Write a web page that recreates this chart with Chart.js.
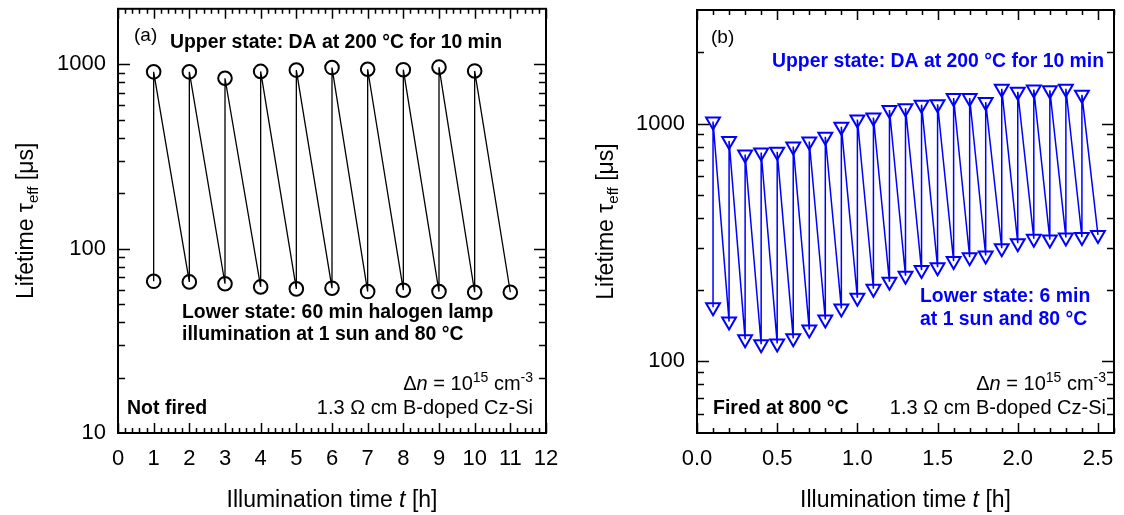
<!DOCTYPE html>
<html><head><meta charset="utf-8">
<script src="https://cdn.jsdelivr.net/npm/chart.js@4/dist/chart.umd.min.js"></script>
<style>
html,body{margin:0;padding:0;background:#fff;}
#wrap{position:relative;width:1124px;height:515px;overflow:hidden;background:#fff;}
canvas{position:absolute;top:0;}
#cA{left:0;} #cB{left:562px;}
</style></head><body>
<div id="wrap"><canvas id="cA" width="562" height="515"></canvas><canvas id="cB" width="562" height="515"></canvas></div>
<script>
// ---------- data (a): not fired ----------
const leftLowerTime = [1,2,3,4,5,6,7,8,9,10,11];
const leftLowerTau  = [66.5,66,64.5,62,60.5,61,58.5,59.5,58.5,58,58];
const leftUpperTime = [1,2,3,4,5,6,7,8,9,10];
const leftUpperTau  = [910,910,840,915,930,960,940,935,965,920];
const leftXTicks = [0,1,2,3,4,5,6,7,8,9,10,11,12];
const leftYTicks = [10,100,1000];

// ---------- data (b): fired at 800 °C ----------
const rightLowerTime = [0.1,0.2,0.3,0.4,0.5,0.6,0.7,0.8,0.9,1.0,1.1,1.2,1.3,1.4,1.5,1.6,1.7,1.8,1.9,2.0,2.1,2.2,2.3,2.4,2.5];
const rightLowerTau  = [169,147,124,118,119,125,136,150,167,185,202,216,229,242,249,264,274,279,299,314,328,325,332,333,340];
const rightUpperTime = [0.1,0.2,0.3,0.4,0.5,0.6,0.7,0.8,0.9,1.0,1.1,1.2,1.3,1.4,1.5,1.6,1.7,1.8,1.9,2.0,2.1,2.2,2.3,2.4];
const rightUpperTau  = [1020,845,740,755,760,800,840,880,970,1040,1060,1140,1160,1200,1205,1280,1280,1230,1400,1360,1390,1380,1400,1320];
const rightXTicks = [0,0.5,1.0,1.5,2.0,2.5];
const rightYTicks = [100,1000];

// measurement sequence: lower(t1), upper(t1), lower(t2), upper(t2), ...
function sequence(lt, lv, ut, uv){
  const out = [];
  for (let i = 0; i < lt.length; i++){
    out.push({x: lt[i], y: lv[i]});
    if (i < ut.length) out.push({x: ut[i], y: uv[i]});
  }
  return out;
}

const FONT = "'Liberation Sans', Arial, Helvetica, sans-serif";

function drawRich(ctx, parts, x, y, align, color){
  let w = 0;
  parts.forEach(p => { ctx.font = p.f; p.w = ctx.measureText(p.t).width; w += p.w; });
  let cx = align === 'right' ? x - w : (align === 'center' ? x - w/2 : x);
  ctx.fillStyle = color; ctx.textAlign = 'left'; ctx.textBaseline = 'alphabetic';
  parts.forEach(p => { ctx.font = p.f; ctx.fillText(p.t, cx, y + (p.dy || 0)); cx += p.w; });
}

function decor(spec){
  return {
    id: 'decor',
    afterDraw(chart){
      const ctx = chart.ctx, a = chart.chartArea;
      const xs = chart.scales.x, ys = chart.scales.y;
      ctx.save();
      ctx.strokeStyle = '#000'; ctx.lineWidth = 2;
      ctx.strokeRect(a.left, a.top, a.right - a.left, a.bottom - a.top);
      ctx.lineWidth = 1.5;
      ctx.beginPath();
      const xmin = xs.min, xmax = xs.max, st = spec.xMinor;
      const n = Math.round((xmax - xmin) / st);
      for (let i = 0; i <= n; i++){
        const v = xmin + i * st;
        const px = Math.round(xs.getPixelForValue(v)) + 0.5;
        const major = (i % spec.xMinorPer) === 0;
        const L = major ? 10 : 5;
        ctx.moveTo(px, a.bottom); ctx.lineTo(px, a.bottom - L);
        ctx.moveTo(px, a.top); ctx.lineTo(px, a.top + L);
      }
      const d0 = Math.floor(Math.log10(ys.min)), d1 = Math.ceil(Math.log10(ys.max));
      for (let d = d0; d <= d1; d++){
        for (let m = 1; m <= 9; m++){
          const v = m * Math.pow(10, d);
          if (v <= ys.min * 1.0001 || v >= ys.max * 0.9999) continue;
          const py = Math.round(ys.getPixelForValue(v)) + 0.5;
          const L = m === 1 ? 12 : 7;
          ctx.moveTo(a.left, py); ctx.lineTo(a.left + L, py);
          ctx.moveTo(a.right, py); ctx.lineTo(a.right - L, py);
        }
      }
      ctx.stroke();

      const xc = (a.left + a.right) / 2;
      drawRich(ctx, [
        {t: 'Illumination time ', f: '23px ' + FONT},
        {t: 't', f: 'italic 23px ' + FONT},
        {t: ' [h]', f: '23px ' + FONT}
      ], xc, 507, 'center', '#000');
      ctx.save();
      ctx.translate(spec.yTitleX, (a.top + a.bottom) / 2);
      ctx.rotate(-Math.PI / 2);
      drawRich(ctx, [
        {t: 'Lifetime \u03c4', f: '23px ' + FONT},
        {t: 'eff', f: '15px ' + FONT, dy: 5},
        {t: ' [\u03bcs]', f: '23px ' + FONT}
      ], 0, 0, 'center', '#000');
      ctx.restore();

      spec.texts.forEach(t => drawRich(ctx, t.parts, t.x, t.y, t.align || 'left', t.color || '#000'));
      ctx.restore();
    }
  };
}

function dnParts(){
  return [
    {t: '\u0394', f: '20px ' + FONT},
    {t: 'n', f: 'italic 20px ' + FONT},
    {t: ' = 10', f: '20px ' + FONT},
    {t: '15', f: '14px ' + FONT, dy: -8},
    {t: ' cm', f: '20px ' + FONT},
    {t: '-3', f: '14px ' + FONT, dy: -8}
  ];
}

function makeChart(id, cfg){
  const fixScale = (w, h) => (s) => {
    if (w !== null) s.width = w;
    if (h !== null) s.height = h;
    s.paddingLeft = 0; s.paddingRight = 0; s.paddingTop = 0; s.paddingBottom = 0;
  };
  return new Chart(document.getElementById(id), {
    type: 'line',
    data: { datasets: [{
      data: cfg.data,
      borderColor: cfg.color, borderWidth: cfg.lineWidth,
      pointStyle: cfg.pointStyle, rotation: cfg.rotation,
      pointRadius: cfg.pointRadius, pointBorderWidth: 2,
      pointBorderColor: cfg.color, pointBackgroundColor: 'rgba(0,0,0,0)',
      tension: 0, fill: false, clip: false
    }]},
    options: {
      responsive: false, animation: false, events: [],
      layout: { padding: { top: 5, right: cfg.padRight, left: 0, bottom: 0 } },
      plugins: { legend: { display: false }, tooltip: { enabled: false } },
      scales: {
        x: {
          type: 'linear', min: cfg.xMin, max: cfg.xMax,
          afterBuildTicks: s => { s.ticks = cfg.xTicks.map(v => ({ value: v })); },
          afterFit: fixScale(null, 82),
          grid: { display: false, drawTicks: false }, border: { display: false },
          ticks: { padding: 13, color: '#000', font: { family: FONT, size: 22 },
                   maxRotation: 0, autoSkip: false, callback: cfg.xFmt }
        },
        y: {
          type: 'logarithmic', min: cfg.yMin, max: cfg.yMax,
          afterBuildTicks: s => { s.ticks = cfg.yTicks.map(v => ({ value: v })); },
          afterFit: fixScale(cfg.yWidth, null),
          grid: { display: false, drawTicks: false }, border: { display: false },
          ticks: { padding: 12, color: '#000', font: { family: FONT, size: 22 },
                   autoSkip: false, callback: v => String(v) }
        }
      }
    },
    plugins: [decor(cfg.spec)]
  });
}

// ---------- panel (a) ----------
makeChart('cA', {
  data: sequence(leftLowerTime, leftLowerTau, leftUpperTime, leftUpperTau),
  color: '#000', lineWidth: 1.3, pointStyle: 'circle', rotation: 0, pointRadius: 6.8,
  xMin: 0, xMax: 12, xTicks: leftXTicks, xFmt: v => String(v),
  yMin: 10, yMax: 2000, yTicks: leftYTicks, yWidth: 118, padRight: 16,
  spec: {
    xMinor: 0.2, xMinorPer: 5, yTitleX: 33,
    texts: [
      {parts: [{t: '(a)', f: '19px ' + FONT}], x: 134, y: 41},
      {parts: [{t: 'Upper state: DA at 200 \u00b0C for 10 min', f: 'bold 19.4px ' + FONT}], x: 170, y: 48},
      {parts: [{t: 'Lower state: 60 min halogen lamp', f: 'bold 19.4px ' + FONT}], x: 182, y: 318},
      {parts: [{t: 'illumination at 1 sun and 80 \u00b0C', f: 'bold 19.4px ' + FONT}], x: 182, y: 340},
      {parts: dnParts(), x: 533, y: 390, align: 'right'},
      {parts: [{t: '1.3 \u03a9 cm B-doped Cz-Si', f: '20px ' + FONT}], x: 533, y: 414, align: 'right'},
      {parts: [{t: 'Not fired', f: 'bold 19.5px ' + FONT}], x: 127, y: 414}
    ]
  }
});

// ---------- panel (b) ----------
const OFF = 562;
const BLUE = '#0000ff';
makeChart('cB', {
  data: sequence(rightLowerTime, rightLowerTau, rightUpperTime, rightUpperTau),
  color: BLUE, lineWidth: 1.5, pointStyle: 'triangle', rotation: 180, pointRadius: 8,
  xMin: 0, xMax: 2.6, xTicks: rightXTicks, xFmt: v => Number(v).toFixed(1),
  yMin: 50, yMax: 3000, yTicks: rightYTicks, yWidth: 135, padRight: 10,
  spec: {
    xMinor: 0.1, xMinorPer: 5, yTitleX: 51,
    texts: [
      {parts: [{t: '(b)', f: '19px ' + FONT}], x: 711 - OFF, y: 43},
      {parts: [{t: 'Upper state: DA at 200 \u00b0C for 10 min', f: 'bold 19.4px ' + FONT}], x: 772 - OFF, y: 67, color: BLUE},
      {parts: [{t: 'Lower state: 6 min', f: 'bold 19.4px ' + FONT}], x: 920 - OFF, y: 302, color: BLUE},
      {parts: [{t: 'at 1 sun and 80 \u00b0C', f: 'bold 19.4px ' + FONT}], x: 920 - OFF, y: 325, color: BLUE},
      {parts: dnParts(), x: 1106 - OFF, y: 390, align: 'right'},
      {parts: [{t: '1.3 \u03a9 cm B-doped Cz-Si', f: '20px ' + FONT}], x: 1106 - OFF, y: 414, align: 'right'},
      {parts: [{t: 'Fired at 800 \u00b0C', f: 'bold 19.5px ' + FONT}], x: 713 - OFF, y: 414}
    ]
  }
});
</script>
</body></html>
